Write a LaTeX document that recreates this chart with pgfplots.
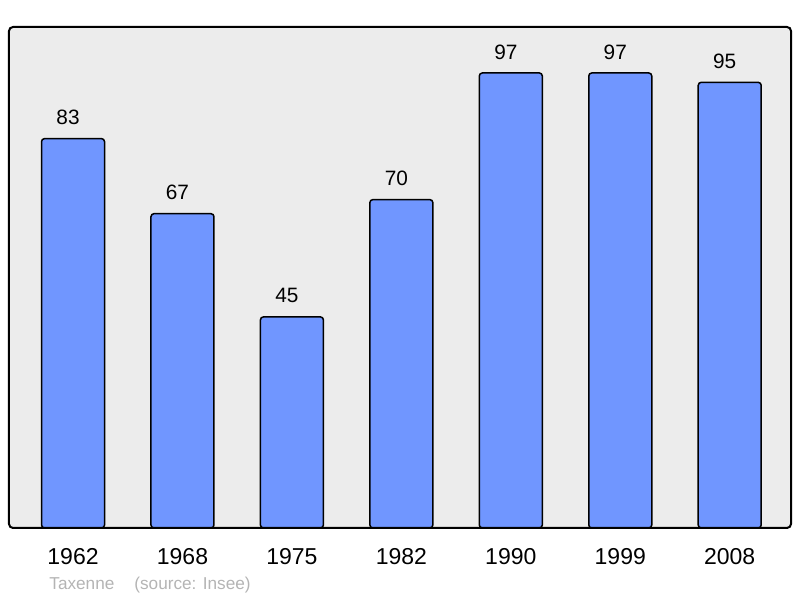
\documentclass[border=0pt]{standalone}
\usepackage{fontspec}
\setmainfont{Liberation Sans}
\usepackage{pgfplots}
\pgfplotsset{compat=1.18}

\definecolor{barblue}{RGB}{112,150,255}
\definecolor{panelgray}{RGB}{236,236,236}
\definecolor{srcgray}{RGB}{180,180,180}

\begin{document}
\begin{tikzpicture}
% page is 800x598 px, 1 px = 0.5pt
\path[use as bounding box] (0,0) rectangle (400pt,299pt);

\begin{axis}[
    at={(4.5pt,35pt)}, anchor=south west,
    scale only axis, width=391pt, height=250.5pt,
    ybar, bar width=31.5pt,
    xmin=-0.585, xmax=6.56,
    ymin=0, ymax=106.8,
    xtick=data,
    xticklabels={1962,1968,1975,1982,1990,1999,2008},
    xtick style={draw=none},
    ytick=\empty,
    xticklabel style={font=\fontsize{11.5}{13}\selectfont, anchor=north,
                      inner sep=0pt, yshift=-6pt},
    axis line style={draw=none},
    axis background/.style={fill=panelgray},
    clip=false,
    nodes near coords,
    nodes near coords style={font=\fontsize{10.4}{12}\selectfont, anchor=south,
                             inner sep=0pt, yshift=6.5pt, xshift=-2.5pt, text=black},
    /pgf/number format/assume math mode=true,
  ]
  \addplot[draw=black, line width=0.75pt, fill=barblue, rounded corners=1.5pt]
    coordinates {(0,83) (1,67) (2,45) (3,70) (4,97) (5,97) (6,95)};
  \draw[line width=1pt, rounded corners=2pt]
    (rel axis cs:0,0) rectangle (rel axis cs:1,1);
\end{axis}

\node[anchor=base west, text=srcgray, inner sep=0pt,
      font=\fontsize{8.6}{10}\selectfont] at (24.5pt,4pt) {Taxenne};
\node[anchor=base west, text=srcgray, inner sep=0pt,
      font=\fontsize{8.6}{10}\selectfont] at (67pt,4pt) {(source: Insee)};
\end{tikzpicture}
\end{document}
